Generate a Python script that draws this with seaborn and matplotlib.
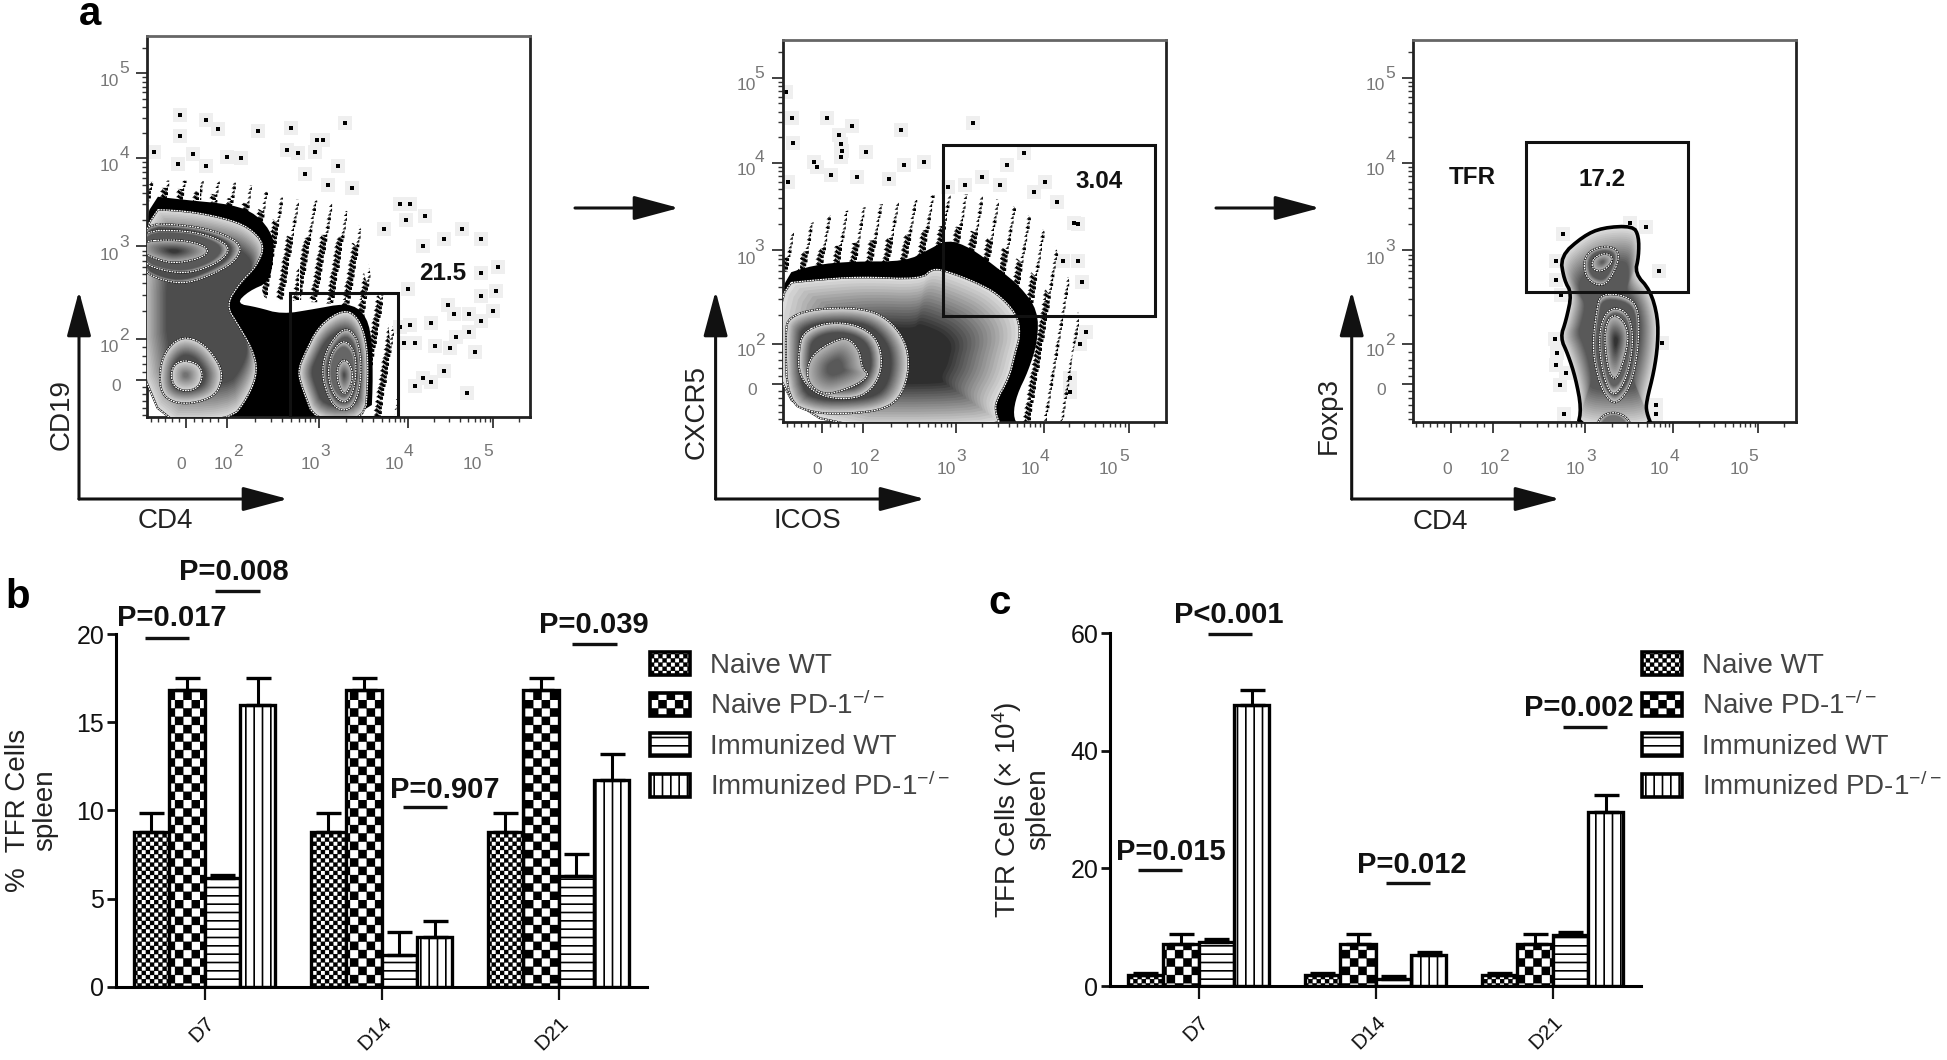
import warnings
import numpy as np
import pandas as pd
import matplotlib
matplotlib.use("Agg")
import matplotlib.pyplot as plt
import matplotlib.hatch as mhatch
from matplotlib.path import Path
from matplotlib.patches import Patch, Polygon, Rectangle
import seaborn as sns

warnings.filterwarnings("ignore")

# ---------- bar chart data ----------
DAYS = ["D7", "D14", "D21"]
GROUPS = ["Naive WT", "Naive PD-1$^{-/-}$", "Immunized WT", "Immunized PD-1$^{-/-}$"]
PCT_NAIVE_WT = [8.8, 8.8, 8.8]
PCT_NAIVE_KO = [16.85, 16.85, 16.85]
PCT_IMM_WT = [6.15, 1.8, 6.25]
PCT_IMM_KO = [15.95, 2.8, 11.7]
PCT_ERR_NAIVE_WT = [1.05, 1.05, 1.05]
PCT_ERR_NAIVE_KO = [0.65, 0.65, 0.65]
PCT_ERR_IMM_WT = [0.2, 1.3, 1.25]
PCT_ERR_IMM_KO = [1.55, 0.95, 1.5]
NUM_NAIVE_WT = [1.9, 1.9, 1.9]
NUM_NAIVE_KO = [7.15, 7.15, 7.15]
NUM_IMM_WT = [7.55, 1.15, 8.7]
NUM_IMM_KO = [47.8, 5.3, 29.55]
NUM_ERR_NAIVE_WT = [0.35, 0.35, 0.35]
NUM_ERR_NAIVE_KO = [1.65, 1.65, 1.65]
NUM_ERR_IMM_WT = [0.45, 0.55, 0.55]
NUM_ERR_IMM_KO = [2.6, 0.55, 2.95]
PCT_TICKS = [0, 5, 10, 15, 20]
NUM_TICKS = [0, 20, 40, 60]

PCT_P_TEXT = ["P=0.008", "P=0.017", "P=0.039", "P=0.907"]
NUM_P_TEXT = ["P<0.001", "P=0.015", "P=0.012", "P=0.002"]

# ---------- flow cytometry panels: outlines ----------
# Panel 1 (CD4 / CD19)
P1_STIPPLE = [(340,505),(450,505),(600,510),(680,560),(800,560),(870,620),(885,720),(900,800),(930,830),(945,900),(960,1000),(960,1185),(890,1185),(890,850),(700,830),(620,830),(660,700),(620,600),(340,560)]
P1_DENSE = [[(340,520),(500,535),(650,590),(700,680),(780,650),(870,680),(880,800),(930,840),(945,1000),(930,1185),(880,1185),(880,860),(700,840),(620,840),(660,700),(620,600),(340,570)]]
P1_BLACK = [(340,545),(450,560),(560,572),(620,600),(660,660),(660,720),(650,790),(600,815),(570,850),(620,860),(680,880),(760,865),(830,850),(870,865),(895,920),(900,1050),(895,1185),(340,1185)]
P1_RINGS = [
    ([(340,585),(450,590),(540,610),(600,635),(640,685),(620,745),(580,790),(545,855),(575,910),(610,980),(622,1040),(600,1110),(555,1180),(340,1180)], 0.86, 0.30, 0.30, None),
    ([(340,625),(450,630),(530,650),(585,685),(570,730),(520,765),(450,795),(390,785),(340,755)], 0.80, 0.30, 0.12, (400,710)),
    ([(340,645),(450,645),(520,665),(558,695),(530,735),(460,765),(400,760),(340,735)], 0.80, 0.35, 0.12, (400,700)),
    ([(340,675),(430,670),(490,685),(505,705),(480,725),(420,738),(375,725),(340,705)], 0.70, 0.22, 0.85, (420,703)),
    ([(450,942),(495,965),(530,1020),(537,1060),(520,1110),(460,1132),(410,1125),(385,1090),(388,1010),(415,960)], 0.85, 0.30, 0.45, (450,1050)),
    ([(445,1008),(480,1020),(490,1050),(480,1085),(450,1097),(420,1085),(412,1050),(420,1020)], 0.85, 0.45, 0.85, (448,1050)),
    ([(830,865),(865,890),(885,960),(888,1060),(880,1180),(760,1180),(730,1090),(718,1040),(735,990),(770,910)], 0.88, 0.30, 0.30, (825,1040)),
    ([(830,915),(860,940),(872,1010),(868,1090),(850,1145),(815,1150),(790,1110),(775,1040),(790,970)], 0.80, 0.35, 0.18, (825,1040)),
    ([(830,950),(855,980),(860,1040),(850,1110),(828,1132),(800,1100),(790,1040),(802,980)], 0.82, 0.40, 0.18, (825,1040)),
    ([(830,1002),(850,1030),(850,1075),(830,1110),(815,1075),(812,1030)], 0.75, 0.30, 0.9, (830,1050)),
]
P1_GATE = (700, 820, 960, 1168)
P1_DOTS_X = [435,497,527,622,702,832,435,765,778,372,430,465,548,582,693,718,760,815,497,735,790,850,965,990,1025,980,1115,1070,1160,925,1020,1200,1160,985,1195,1160,1080,1095,1130,1190,1160,1040,990,965,1130,1100,975,1000,1050,1085,1145,1020,1040,1000,1070,1125]
P1_DOTS_Y = [322,335,360,365,358,345,380,392,392,425,460,430,440,442,420,428,425,465,465,488,518,525,572,572,605,615,640,670,670,640,690,748,765,810,815,830,855,880,880,870,900,905,910,915,930,945,960,960,970,975,985,1060,1070,1080,1040,1100]
P1_X_MAJOR = [448, 547, 770, 985, 1190]
P1_Y_MAJOR = [1065, 950, 690, 443, 205]
P1_XLAB_X = [438, 540, 748, 950, 1140]
P1_XSUP_X = [None, 575, 785, 985, 1178]
P1_YLAB_Y = [1082, 972, 715, 465, 228]
P1_YSUP_Y = [None, 940, 680, 430, 190]

# Panel 2 (ICOS / CXCR5)
P2_STIPPLE = [(255,650),(400,570),(560,540),(700,510),(850,530),(960,620),(1020,770),(1050,900),(1020,1000),(1020,1205),(880,1205),(930,950),(925,860),(700,660),(590,720),(255,760)]
P2_DENSE = [[(255,700),(450,660),(590,640),(700,600),(800,640),(900,720),(980,830),(980,900),(960,1000),(950,1100),(920,1205),(880,1205),(925,950),(925,860),(700,660),(590,720),(255,760)]]
P2_BLACK = [(255,760),(350,725),(450,715),(590,715),(650,680),(700,650),(760,675),(830,735),(890,790),(935,860),(935,950),(910,1040),(880,1110),(870,1170),(885,1205),(255,1205)]
P2_RINGS = [
    ([(255,782),(350,770),(470,760),(630,768),(660,735),(700,745),(770,775),(830,810),(880,870),(890,930),(875,990),(860,1060),(825,1130),(825,1165),(840,1205),(255,1205)], 0.86, 0.18, 0.62, (600,1000)),
    ([(285,880),(350,855),(470,852),(540,880),(590,950),(600,1030),(580,1110),(540,1150),(460,1165),(350,1165),(280,1130),(275,920)], 0.85, 0.28, 0.25, (420,1010)),
    ([(320,925),(380,895),(460,900),(520,945),(530,1040),(490,1110),(420,1125),(350,1105),(310,1050),(310,980)], 0.85, 0.30, 0.25, (420,1010)),
    ([(345,990),(400,950),(440,940),(470,980),(475,1030),(495,1050),(470,1075),(430,1095),(380,1110),(340,1085),(330,1040)], 0.72, 0.35, 0.7, (405,1030)),
]
P2_GATE = (688, 372, 1240, 876)
P2_DOTS_X = [278,292,383,450,577,765,415,295,420,422,485,350,358,420,585,637,900,855,395,462,282,545,700,745,790,835,925,955,985,1030,1040,1000,1040,1050,1060,1045,1020,1020]
P2_DOTS_Y = [215,290,292,315,325,305,340,365,368,388,390,420,435,405,430,420,395,430,458,465,480,470,495,490,465,490,510,480,540,600,605,715,715,775,925,960,1060,1100]
P2_X_MAJOR = [370, 477, 720, 950, 1172]
P2_Y_MAJOR = [1078, 958, 682, 423, 172]
P2_XLAB_X = [358, 468, 695, 915, 1120]
P2_XSUP_X = [None, 508, 735, 952, 1160]
P2_YLAB_Y = [1098, 982, 708, 447, 195]
P2_YSUP_Y = [None, 948, 672, 408, 160]

# Panel 3 (CD4 / Foxp3)
P3_RINGS = [
    ([(870,610),(885,640),(885,700),(875,750),(915,800),(935,880),(935,960),(925,1040),(905,1130),(905,1160),(920,1205),(725,1205),(735,1150),(720,1060),(700,990),(680,940),(695,890),(710,810),(690,770),(680,700),(740,640),(790,615)], 0.88, 0.35, 0.35, (810,900)),
    ([(790,670),(825,675),(835,705),(815,760),(790,790),(750,770),(740,720),(755,685)], 0.80, 0.35, 0.25, (790,720)),
    ([(790,690),(815,697),(815,720),(790,745),(765,740),(762,710)], 0.75, 0.38, 0.85, (790,717)),
    ([(785,810),(850,815),(885,850),(885,960),(870,1060),(850,1110),(820,1140),(790,1100),(770,1020),(765,950),(775,860)], 0.85, 0.35, 0.12, (825,950)),
    ([(820,848),(860,870),(872,950),(855,1060),(820,1120),(795,1070),(780,960),(790,880)], 0.85, 0.38, 0.15, (825,950)),
    ([(820,870),(850,895),(860,950),(835,1050),(820,1065),(805,1040),(795,950),(800,895)], 0.72, 0.20, 0.85, (825,950)),
    ([(770,1205),(790,1170),(820,1160),(850,1172),(870,1205)], 0.85, 0.45, 0.3, (820,1190)),
]
P3_GATE = (590, 363, 1015, 805)
P3_DOTS_X = [688,668,670,683,665,672,670,695,678,690,905,862,938,945,930,930]
P3_DOTS_Y = [635,715,770,815,945,985,1020,1045,1080,1165,612,600,742,955,1140,1165]
P3_X_MAJOR = [395, 503, 745, 975, 1198]
P3_Y_MAJOR = [1078, 958, 682, 423, 172]
P3_XLAB_X = [385, 495, 720, 940, 1147]
P3_XSUP_X = [None, 532, 760, 978, 1185]

W, H = 1947, 1060
GRAY_TXT = "#777777"


# ---------- custom hatches: square checks and irregular stipple ----------
class SquareCells(mhatch.HatchPatternBase):
    CELLS = {"c": 24, "C": 12}

    def __init__(self, hatch, density):
        self.n = next((v for k, v in self.CELLS.items() if k in hatch), 0)
        self.filled = True
        self.num_vertices = 5 * self.n * self.n // 2 if self.n else 0

    def set_vertices_and_codes(self, vertices, codes):
        n, d, i = self.n, 1.0 / self.n, 0
        inset = 0.007
        for r in range(n):
            for c in range(n):
                if (r + c) % 2 == 0:
                    x, y = c * d + inset, r * d + inset
                    s = d - 2 * inset
                    vertices[i:i + 5] = [(x, y), (x + s, y), (x + s, y + s), (x, y + s), (x, y)]
                    codes[i:i + 5] = [Path.MOVETO, Path.LINETO, Path.LINETO, Path.LINETO, Path.CLOSEPOLY]
                    i += 5


class Stipple(mhatch.HatchPatternBase):
    COUNTS = {"s": 170, "S": 620}

    def __init__(self, hatch, density):
        self.n = next((v for k, v in self.COUNTS.items() if k in hatch), 0)
        self.filled = True
        self.num_vertices = self.n * 4

    def set_vertices_and_codes(self, vertices, codes):
        for i in range(self.n):
            x = (i * 0.7548777) % 0.99
            y = (i * 0.5698403) % 0.99
            e = 0.003
            vertices[i * 4:i * 4 + 4] = [(x, y), (x + e, y), (x + e, y + e), (x, y)]
            codes[i * 4:i * 4 + 4] = [Path.MOVETO, Path.LINETO, Path.LINETO, Path.CLOSEPOLY]


mhatch._hatch_types.extend([SquareCells, Stipple])
HATCHES = ["c", "C", "--", "||"]

sns.set_theme(style="white")
plt.rcParams["font.family"] = ["Liberation Sans", "DejaVu Sans"]
plt.rcParams["mathtext.default"] = "regular"
plt.rcParams["hatch.linewidth"] = 1.2

fig = plt.figure(figsize=(W / 100, H / 100), dpi=100, facecolor="white")


def px_axes(l, t, r, b, **kw):
    return fig.add_axes([l / W, 1 - b / H, (r - l) / W, (b - t) / H], **kw)


def smooth(points, rounds=2):
    p = np.asarray(points, float)
    for _ in range(rounds):
        q = np.roll(p, -1, axis=0)
        p = np.column_stack([0.75 * p + 0.25 * q, 0.25 * p + 0.75 * q]).reshape(-1, 2)
    return p


def flow_panel(box, xlim, ylim, x_major, y_major, xlab_x, xsup_x, xlab_y, xsup_y,
               ylab_x, ysup_x, ylab_y, ysup_y, rings, gate, dots_x, dots_y,
               stipple=None, dense=(), black=None, edge_lw=0.0):
    ax = px_axes(*box)
    ax.set_xlim(*xlim)
    ax.set_ylim(*ylim)
    ax.set_facecolor("white")
    ax.scatter(dots_x, dots_y, s=110, marker="s", color="#efefef", lw=0, zorder=1)
    ax.scatter(dots_x, dots_y, s=5, marker="s", color="black", lw=0, zorder=1.2)
    if stipple is not None:
        ax.add_patch(Polygon(smooth(stipple), facecolor="none", edgecolor="black", lw=0, hatch="s", zorder=1.5))
    for d in dense:
        ax.add_patch(Polygon(smooth(d), facecolor="none", edgecolor="black", lw=0, hatch="S", zorder=1.6))
    if black is not None:
        ax.add_patch(Polygon(smooth(black), facecolor="black", lw=0, zorder=2))
    for k, (poly, light, dark, shrink, centre) in enumerate(rings):
        pts = smooth(poly)
        c = np.array(centre) if centre is not None else pts.mean(axis=0)
        for i, t in enumerate(np.linspace(0, 1, 18)):
            g = light + (dark - light) * t
            ax.add_patch(Polygon(c + (pts - c) * (1 - shrink * t), facecolor=str(round(g, 3)), lw=0, zorder=3 + k + i * 0.01))
        if edge_lw and k == 0:
            ax.add_patch(Polygon(pts, fill=False, edgecolor="black", lw=edge_lw, zorder=3 + k + 0.5))
        else:
            ax.add_patch(Polygon(pts, fill=False, edgecolor="black", lw=1.4, zorder=3 + k + 0.4))
            ax.add_patch(Polygon(pts, fill=False, edgecolor="white", lw=0.9, ls=(0, (1.5, 0.6)), zorder=3 + k + 0.5))
    x0, y0, x1, y1 = gate
    ax.add_patch(Rectangle((x0, y0), x1 - x0, y1 - y0, fill=False, edgecolor="#111111", lw=2.2, zorder=20))

    ax.grid(False)
    for s in ax.spines.values():
        s.set_linewidth(2.0)
        s.set_color("#222222")
    ax.spines["top"].set_color("#666666")
    ax.set_xticks(x_major)
    ax.set_yticks(y_major)
    ax.set_xticklabels([])
    ax.set_yticklabels([])
    minor_x, minor_y = [], []
    for major, out in ((x_major, minor_x), (y_major, minor_y)):
        for a, b in zip(major[1:], major[2:]):
            out.extend(a + (b - a) * np.log10(np.arange(2, 10)))
        out.extend(np.linspace(major[0], major[1], 6)[1:-1])
        step = major[0] - major[1]
        out.extend(np.linspace(major[0], major[0] + step * 0.85, 6)[1:])
        out.extend([major[-1] + (major[-1] - major[-2]) * 0.3])
    ax.set_xticks(minor_x, minor=True)
    ax.set_yticks(minor_y, minor=True)
    ax.set_xlim(*xlim)
    ax.set_ylim(*ylim)
    ax.tick_params(which="major", bottom=True, left=True, length=8, width=1.3, color="#333333")
    ax.tick_params(which="minor", bottom=True, left=True, length=3.5, width=1.0, color="#333333")

    for i, x in enumerate(xlab_x):
        ax.text(x, xlab_y, "0" if i == 0 else "10", color=GRAY_TXT, fontsize=12.5, ha="center", va="center", clip_on=False)
        if xsup_x[i] is not None:
            ax.text(xsup_x[i], xsup_y, str(i + 1), color=GRAY_TXT, fontsize=12.5, ha="center", va="center", clip_on=False)
    for i, y in enumerate(ylab_y):
        ax.text(ylab_x + (15 if i == 0 else 0) * abs(xlim[1] - xlim[0]) / 950, y, "0" if i == 0 else "10", color=GRAY_TXT, fontsize=12.5, ha="center", va="center", clip_on=False)
        if ysup_y[i] is not None:
            ax.text(ysup_x, ysup_y[i], str(i + 1), color=GRAY_TXT, fontsize=12.5, ha="center", va="center", clip_on=False)
    return ax


flow_panel((147, 36, 530, 417), (355, 1278), (1168, 100), P1_X_MAJOR, P1_Y_MAJOR,
           P1_XLAB_X, P1_XSUP_X, 1300, 1265, 265, 300, P1_YLAB_Y, P1_YSUP_Y,
           P1_RINGS, P1_GATE, P1_DOTS_X, P1_DOTS_Y, P1_STIPPLE, P1_DENSE, P1_BLACK)
flow_panel((782.6, 40, 1166, 422), (268, 1270), (1190, 60), P2_X_MAJOR, P2_Y_MAJOR,
           P2_XLAB_X, P2_XSUP_X, 1330, 1293, 172, 208, P2_YLAB_Y, P2_YSUP_Y,
           P2_RINGS, P2_GATE, P2_DOTS_X, P2_DOTS_Y, P2_STIPPLE, P2_DENSE, P2_BLACK)
flow_panel((1413, 40, 1795.6, 422), (295, 1295), (1190, 60), P3_X_MAJOR, P3_Y_MAJOR,
           P3_XLAB_X, P3_XSUP_X, 1330, 1293, 197, 235, P2_YLAB_Y, P2_YSUP_Y,
           P3_RINGS, P3_GATE, P3_DOTS_X, P3_DOTS_Y, edge_lw=2.6)


# ---------- bar charts ----------
def bar_panel(l, r, t, b, series, errors, ymax, yticks, ylabel, ylabel_x, legend_left):
    ax = px_axes(l, t, r, b)
    df = pd.DataFrame({
        "day": DAYS * 4,
        "group": np.repeat(GROUPS, 3),
        "value": np.concatenate(series),
    })
    sns.barplot(data=df, x="day", y="value", hue="group", order=DAYS, hue_order=GROUPS,
                palette=["white"] * 4, saturation=1, width=0.8, errorbar=None, legend=False,
                edgecolor="black", linewidth=2.4, ax=ax)
    for cont, hatch, err, vals in zip(ax.containers, HATCHES, errors, series):
        xs = []
        for patch in cont:
            patch.set_edgecolor("black")
            patch.set_hatch(hatch)
            xs.append(patch.get_x() + patch.get_width() / 2)
        ax.errorbar(xs, vals, yerr=[np.zeros(3), err], fmt="none", ecolor="black",
                    elinewidth=2.2, capsize=9, capthick=2.4, zorder=1.5)
    ax.set_xlim(-0.5, 2.5)
    ax.set_ylim(0, ymax)
    ax.set_yticks(yticks)
    ax.set_xlabel("")
    ax.set_ylabel(ylabel, fontsize=20, linespacing=1.05, va="center", color="#222222")
    ax.yaxis.set_label_coords((ylabel_x - l) / (r - l), 0.5)
    sns.despine(ax=ax)
    for s in ("left", "bottom"):
        ax.spines[s].set_linewidth(2.2)
        ax.spines[s].set_color("black")
    ax.tick_params(axis="y", left=True, length=6.5, width=2, labelsize=18, pad=2, colors="#111111")
    ax.tick_params(axis="x", bottom=True, length=9, width=1.6, labelsize=15, pad=10, colors="#111111")
    for lab in ax.get_xticklabels():
        lab.set_rotation(45)
        lab.set_ha("right")
        lab.set_va("top")
        lab.set_rotation_mode("anchor")
    handles = [Patch(facecolor="white", edgecolor="black", linewidth=2.6, hatch=h, label=g)
               for h, g in zip(HATCHES, GROUPS)]
    leg = ax.legend(handles=handles, loc="upper left", frameon=False, fontsize=20,
                    bbox_to_anchor=(legend_left / W, 1 - 652 / H), bbox_transform=fig.transFigure,
                    borderpad=0, borderaxespad=0, handlelength=1.44, handleheight=0.9,
                    handletextpad=0.72, labelspacing=0.45, labelcolor="#444444")
    return ax


bar_panel(116, 647, 634, 986.7,
          [PCT_NAIVE_WT, PCT_NAIVE_KO, PCT_IMM_WT, PCT_IMM_KO],
          [PCT_ERR_NAIVE_WT, PCT_ERR_NAIVE_KO, PCT_ERR_IMM_WT, PCT_ERR_IMM_KO],
          20, PCT_TICKS, "%  TFR Cells\nspleen", 32, 650)
bar_panel(1110, 1641, 633.3, 986,
          [NUM_NAIVE_WT, NUM_NAIVE_KO, NUM_IMM_WT, NUM_IMM_KO],
          [NUM_ERR_NAIVE_WT, NUM_ERR_NAIVE_KO, NUM_ERR_IMM_WT, NUM_ERR_IMM_KO],
          60, NUM_TICKS, "TFR Cells (× 10$^{4}$)\nspleen", 1021, 1642)

# ---------- overlay annotations, in figure pixels ----------
ov = fig.add_axes([0, 0, 1, 1], zorder=50)
ov.set_xlim(0, W)
ov.set_ylim(H, 0)
ov.axis("off")
ov.patch.set_alpha(0)

P_TEXT_POS = [(234, 572), (172, 618), (594, 625), (445, 790), (1228.6, 615), (1170.6, 852), (1412, 865), (1579, 708)]
P_LINE_POS = [(215, 260, 591), (145, 189, 638), (572, 617, 644), (403, 447, 807), (1208, 1252, 634), (1138, 1182, 870), (1386, 1430, 883), (1563, 1607, 727)]
for txt, (x, y), (x0, x1, yl) in zip(PCT_P_TEXT + NUM_P_TEXT, P_TEXT_POS, P_LINE_POS):
    ov.text(x, y, txt, fontsize=21, fontweight="bold", ha="center", va="center", color="#111111")
    ov.plot([x0, x1], [yl, yl], color="#111111", lw=2.4, solid_capstyle="butt")

for txt, x, y in (("a", 90, 14), ("b", 18, 597), ("c", 1000, 603)):
    ov.text(x, y, txt, fontsize=29, fontweight="bold", ha="center", va="center", color="black")
for txt, x, y in (("21.5", 443, 273), ("3.04", 1099, 181), ("17.2", 1602, 179), ("TFR", 1472, 178)):
    ov.text(x, y, txt, fontsize=17.5, fontweight="bold", ha="center", va="center", color="#111111")


def arrow(x0, y0, x1, y1):
    ov.annotate("", xy=(x1, y1), xytext=(x0, y0), zorder=40,
                arrowprops=dict(arrowstyle="-|>,head_length=28,head_width=7.5", mutation_scale=1,
                                lw=2.2, color="#111111", shrinkA=0, shrinkB=0))


for cx, tx in ((79, 288), (715.6, 925), (1351.7, 1560)):
    arrow(cx, 499, cx, 291)
    arrow(cx, 499, tx, 499)
arrow(575, 208, 679, 208)
arrow(1216, 208, 1320, 208)
for txt, x, y in (("CD19", 62, 414), ("CXCR5", 697, 412), ("Foxp3", 1329, 415)):
    ov.text(x, y, txt, fontsize=20, rotation=90, ha="center", va="center", color="#222222")
for txt, x, y in (("CD4", 165, 521), ("ICOS", 807, 521), ("CD4", 1440, 522)):
    ov.text(x, y, txt, fontsize=20, ha="center", va="center", color="#222222")

fig.savefig("out.png", dpi=100)
